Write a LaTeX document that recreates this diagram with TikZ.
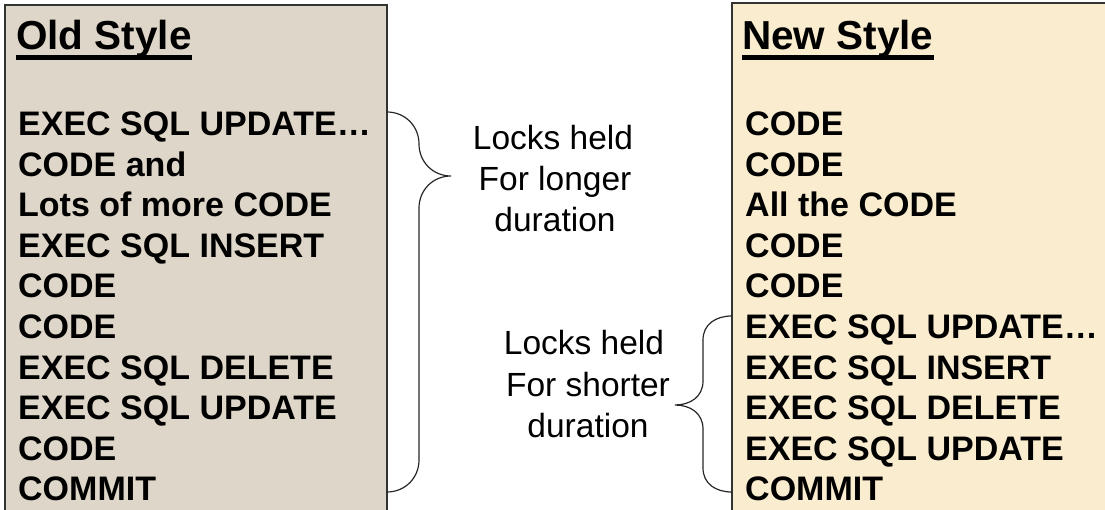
\documentclass[tikz,border=0pt]{standalone}
\usepackage{fontspec}
\setmainfont{Liberation Sans}
\begin{document}
\begin{tikzpicture}[x=1pt,y=-1pt,
  panelold/.style={fill=oldpaper,draw=black!80,line width=1.3pt},
  panelnew/.style={fill=newpaper,draw=black!80,line width=1.3pt},
  title/.style={anchor=base west,inner sep=0pt,font=\fontsize{40.5}{48}\selectfont\bfseries},
  codeline/.style={anchor=base west,inner sep=0pt,font=\fontsize{34}{40}\selectfont\bfseries},
  note/.style={anchor=base,inner sep=0pt,font=\fontsize{33.5}{40}\selectfont},
  brace/.style={draw=black!85,line width=1.2pt},
  uline/.style={line width=4.5pt}]
\definecolor{oldpaper}{RGB}{222,214,200}
\definecolor{newpaper}{RGB}{250,237,207}
\useasboundingbox (0,0) rectangle (1105,510);
\clip (0,0) rectangle (1105,510);

% two code panels
\path[panelold] (5,5) rectangle (387,530);
\path[panelnew] (732,3) rectangle (1120,530);

% old style listing
\node[title] (ot) at (16,50) {Old Style};
\draw[uline] ([yshift=-7.5pt]ot.base west) -- ([yshift=-7.5pt]ot.base east);
\foreach \t [count=\i] in {EXEC SQL UPDATE…,CODE and,Lots of more CODE,EXEC SQL INSERT,CODE,CODE,EXEC SQL DELETE,EXEC SQL UPDATE,CODE,COMMIT}
  \node[codeline] (o\i) at (18,{136+40.5*(\i-1)}) {\t};

% new style listing
\node[title] (nt) at (742,50) {New Style};
\draw[uline] ([yshift=-7.5pt]nt.base west) -- ([yshift=-7.5pt]nt.base east);
\foreach \t [count=\i] in {CODE,CODE,All the CODE,CODE,CODE,EXEC SQL UPDATE…,EXEC SQL INSERT,EXEC SQL DELETE,EXEC SQL UPDATE,COMMIT}
  \node[codeline] (n\i) at (745,{136+40.5*(\i-1)}) {\t};

% brace spanning the old listing
\coordinate (b1top) at (387,112);
\coordinate (b1tip) at (451,176);
\coordinate (b1bot) at (387,492);
\draw[brace] (b1top) .. controls (405,112) and (419,126) .. (419,144)
  .. controls (419,162) and (433,176) .. (b1tip)
  .. controls (433,176) and (419,190) .. (419,208)
  -- (419,460) .. controls (419,478) and (405,492) .. (b1bot);

% brace spanning the SQL block of the new listing
\coordinate (b2top) at (732,316);
\coordinate (b2tip) at (675,405);
\coordinate (b2bot) at (732,492);
\draw[brace] (b2top) .. controls (716,316) and (703,324) .. (703,340)
  -- (703,381) .. controls (703,397) and (690,405) .. (b2tip)
  .. controls (690,405) and (703,413) .. (703,429)
  -- (703,468) .. controls (703,484) and (716,492) .. (b2bot);

% captions
\node[note] (c1a) at (553,150) {Locks held};
\node[note] (c1b) at (555,191) {For longer};
\node[note] (c1c) at (555,232) {duration};
\node[note] (c2a) at (584,355) {Locks held};
\node[note] (c2b) at (588,396) {For shorter};
\node[note] (c2c) at (588,437) {duration};
\end{tikzpicture}
\end{document}
